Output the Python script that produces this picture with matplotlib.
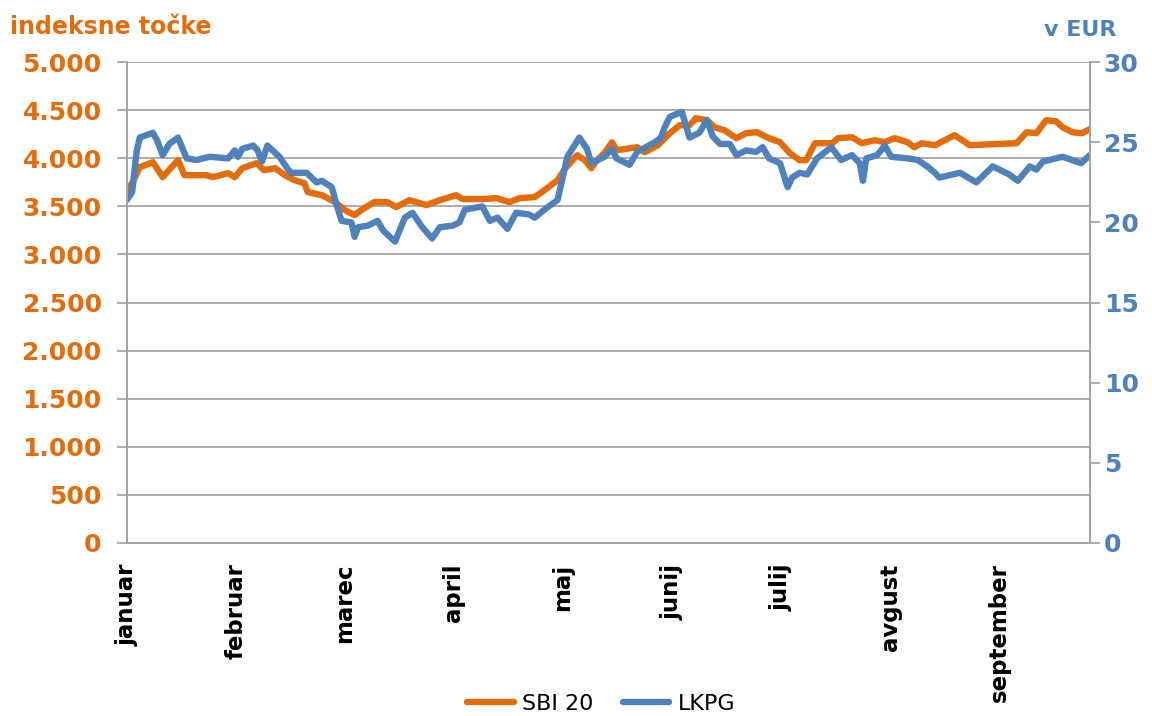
import matplotlib
matplotlib.use("Agg")
import matplotlib.pyplot as plt

months = ["januar", "februar", "marec", "april", "maj", "junij", "julij", "avgust", "september"]

# x positions in months since start of year (0 = januar)
sbi_x = [0.00, 0.05, 0.12, 0.24, 0.33, 0.47, 0.53, 0.73, 0.79, 0.93, 0.99, 1.06, 1.19, 1.26,
         1.36, 1.45, 1.54, 1.63, 1.66, 1.79, 1.91, 2.00, 2.09, 2.15, 2.27, 2.39, 2.47, 2.59,
         2.75, 2.87, 3.02, 3.08, 3.26, 3.39, 3.51, 3.60, 3.74, 3.83, 3.95, 4.03, 4.13, 4.20,
         4.26, 4.31, 4.38, 4.45, 4.49, 4.68, 4.75, 4.87, 4.98, 5.07, 5.16, 5.22, 5.32, 5.39,
         5.48, 5.59, 5.68, 5.78, 5.87, 5.99, 6.08, 6.17, 6.23, 6.31, 6.47, 6.52, 6.65, 6.74,
         6.86, 6.95, 7.04, 7.16, 7.22, 7.29, 7.41, 7.59, 7.73, 8.16, 8.25, 8.34, 8.43, 8.52,
         8.58, 8.67, 8.76, 8.83]
sbi20 = [3669, 3742, 3909, 3960, 3805, 3981, 3825, 3825, 3805, 3846, 3805, 3898, 3950, 3877,
         3898, 3825, 3773, 3742, 3649, 3617, 3545, 3462, 3410, 3462, 3545, 3545, 3493, 3565,
         3514, 3565, 3617, 3576, 3576, 3586, 3545, 3586, 3597, 3669, 3773, 3909, 4033, 3981,
         3898, 3981, 4054, 4168, 4085, 4116, 4064, 4137, 4262, 4345, 4345, 4418, 4397, 4324,
         4293, 4210, 4262, 4272, 4220, 4168, 4054, 3981, 3981, 4158, 4158, 4210, 4220, 4158,
         4189, 4168, 4210, 4168, 4116, 4158, 4137, 4241, 4137, 4158, 4272, 4262, 4397, 4387,
         4324, 4272, 4262, 4304]

lkpg_x = [0.00, 0.05, 0.09, 0.12, 0.24, 0.28, 0.33, 0.39, 0.47, 0.55, 0.64, 0.76, 0.93, 0.99,
          1.02, 1.06, 1.16, 1.20, 1.24, 1.29, 1.40, 1.48, 1.51, 1.65, 1.74, 1.79, 1.88, 1.92,
          1.97, 2.06, 2.09, 2.12, 2.21, 2.30, 2.35, 2.46, 2.55, 2.62, 2.71, 2.80, 2.87, 2.99,
          3.05, 3.10, 3.26, 3.33, 3.40, 3.49, 3.57, 3.69, 3.74, 3.83, 3.95, 4.04, 4.15, 4.22,
          4.26, 4.38, 4.45, 4.49, 4.61, 4.68, 4.84, 4.90, 4.93, 4.98, 5.09, 5.16, 5.25, 5.32,
          5.37, 5.44, 5.53, 5.59, 5.68, 5.77, 5.83, 5.89, 5.99, 6.06, 6.10, 6.17, 6.24, 6.33,
          6.46, 6.55, 6.65, 6.72, 6.75, 6.78, 6.88, 6.95, 7.01, 7.16, 7.25, 7.34, 7.41, 7.45,
          7.64, 7.79, 7.94, 8.09, 8.17, 8.28, 8.34, 8.40, 8.58, 8.75, 8.83]
lkpg = [21.4, 21.9, 24.4, 25.3, 25.6, 25.1, 24.2, 24.9, 25.3, 24.0, 23.9, 24.1, 24.0, 24.5,
        24.1, 24.6, 24.8, 24.5, 23.8, 24.8, 24.1, 23.3, 23.1, 23.1, 22.5, 22.6, 22.2, 21.2,
        20.1, 20.0, 19.1, 19.7, 19.8, 20.1, 19.5, 18.8, 20.3, 20.6, 19.7, 19.0, 19.7, 19.8,
        20.0, 20.8, 21.0, 20.1, 20.3, 19.6, 20.6, 20.5, 20.3, 20.8, 21.4, 24.1, 25.3, 24.6,
        23.7, 24.1, 24.6, 24.0, 23.6, 24.4, 25.0, 25.3, 25.9, 26.6, 26.9, 25.3, 25.6, 26.4,
        25.4, 24.9, 24.9, 24.2, 24.5, 24.4, 24.7, 24.0, 23.7, 22.2, 22.8, 23.1, 23.0, 24.0,
        24.7, 23.9, 24.2, 23.7, 22.6, 24.0, 24.2, 24.8, 24.1, 24.0, 23.9, 23.5, 23.1, 22.8,
        23.1, 22.5, 23.5, 23.0, 22.6, 23.5, 23.3, 23.8, 24.1, 23.7, 24.2]

left_ticks = [0, 500, 1000, 1500, 2000, 2500, 3000, 3500, 4000, 4500, 5000]
left_labels = ["0", "500", "1.000", "1.500", "2.000", "2.500", "3.000", "3.500", "4.000", "4.500", "5.000"]
right_ticks = [0, 5, 10, 15, 20, 25, 30]

orange = "#E46C0A"
blue = "#4F81BD"
grid_col = "#A6A6A6"

fig = plt.figure(figsize=(11.52, 7.16), dpi=100)
ax = fig.add_axes([0.110, 0.242, 0.836, 0.671])
ax2 = ax.twinx()

l1, = ax.plot(sbi_x, sbi20, color=orange, lw=4.6, solid_capstyle="round", label="SBI 20")
l2, = ax2.plot(lkpg_x, lkpg, color=blue, lw=4.6, solid_capstyle="round", label="LKPG")

ax.set_xlim(0, 8.83)
ax.set_ylim(0, 5000)
ax2.set_ylim(0, 30)

ax.set_yticks(left_ticks)
ax.set_yticklabels(left_labels)
ax2.set_yticks(right_ticks)
ax.yaxis.grid(True, color=grid_col, lw=1.3)
ax.set_axisbelow(True)

ax.set_xticks(range(len(months)))
ax.set_xticklabels(months, rotation=90, fontsize=16.5, fontweight="bold", va="top", ha="center")
ax.tick_params(axis="x", length=0, pad=15)
ax.tick_params(axis="y", colors=grid_col, length=7, width=1.3, labelsize=18, pad=11)
ax2.tick_params(axis="y", colors=grid_col, length=7, width=1.3, labelsize=18, pad=3)
for t in ax.get_yticklabels():
    t.set_color(orange)
    t.set_fontweight("bold")
for t in ax2.get_yticklabels():
    t.set_color(blue)
    t.set_fontweight("bold")

for a in (ax, ax2):
    a.spines["top"].set_visible(False)
    for s in ("left", "right", "bottom"):
        a.spines[s].set_color(grid_col)
        a.spines[s].set_linewidth(1.3)

fig.text(0.009, 0.962, "indeksne točke", color=orange, fontsize=17, fontweight="bold", va="center", ha="left")
fig.text(0.938, 0.958, "v EUR", color=blue, fontsize=16, fontweight="bold", va="center", ha="center")

fig.legend(handles=[l1, l2], loc="lower center", bbox_to_anchor=(0.522, -0.025), ncol=2,
           frameon=False, fontsize=16, handlelength=2.1, columnspacing=1.3, handletextpad=0.4)

fig.savefig("out.png", dpi=100)
